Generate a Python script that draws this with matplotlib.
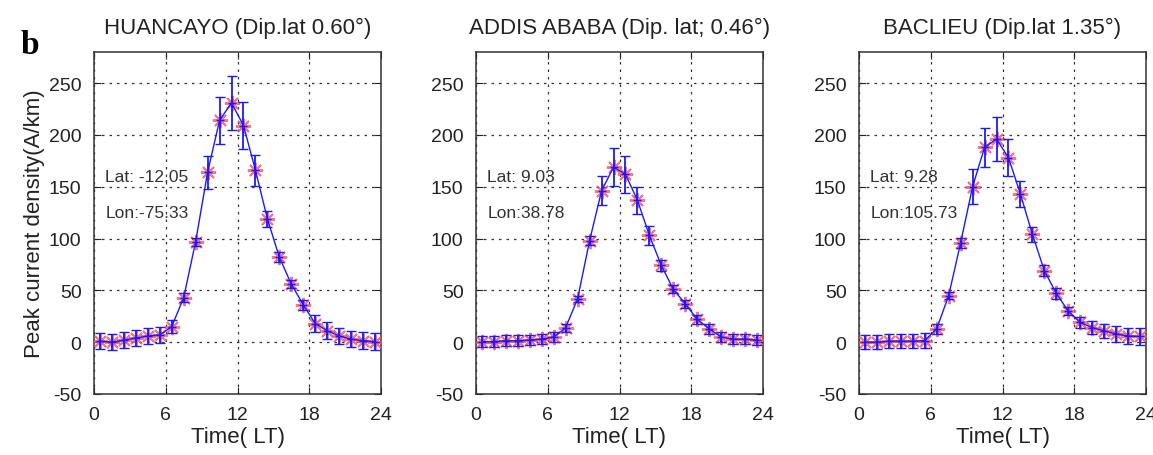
import matplotlib
matplotlib.use("Agg")
import matplotlib.pyplot as plt

plt.rcParams['font.family'] = ['Liberation Sans', 'DejaVu Sans']
plt.rcParams['axes.unicode_minus'] = False

hours = [0.5, 1.5, 2.5, 3.5, 4.5, 5.5, 6.5, 7.5, 8.5, 9.5, 10.5, 11.5,
         12.5, 13.5, 14.5, 15.5, 16.5, 17.5, 18.5, 19.5, 20.5, 21.5, 22.5, 23.5]

titles = ["HUANCAYO (Dip.lat 0.60°)", "ADDIS ABABA (Dip. lat; 0.46°)", "BACLIEU (Dip.lat 1.35°)"]
lat_labels = ["Lat: -12.05", "Lat: 9.03", "Lat: 9.28"]
lon_labels = ["Lon:-75.33", "Lon:38.78", "Lon:105.73"]

huancayo = [1, 0, 2, 4, 6, 7, 15, 43, 97, 164, 214, 231, 209, 166, 119, 82, 56, 36, 18, 11, 6, 3, 1.5, 0.5]
huancayo_err = [8, 8, 8, 8, 8, 8, 6, 4, 4, 16, 23, 26, 23, 15, 8, 5, 4, 5, 8, 8, 8, 8, 8, 8]

addis = [0.6, 0.6, 1.5, 1.5, 2, 3, 5, 14, 42, 98, 146, 169, 162, 137, 103, 74, 51, 37, 22, 13, 5, 3, 3, 2]
addis_err = [5, 5, 5, 5, 5, 5, 5, 4, 3, 4, 14, 18, 18, 13, 9, 5, 4, 4, 4, 5, 5, 5, 5, 5]

baclieu = [0, 0, 1, 1, 1, 1.6, 13, 45, 96, 150, 188, 196, 178, 143, 104, 69, 47, 30, 19, 14, 11, 8, 6, 5.5]
baclieu_err = [7, 7, 7, 7, 7, 7, 5, 3, 5, 17, 19, 21, 18, 13, 7, 5, 5, 4, 5, 6, 7, 8, 8, 8]

xticks = [0, 6, 12, 18, 24]
yticks = [-50, 0, 50, 100, 150, 200, 250]

series = [huancayo, addis, baclieu]
errors = [huancayo_err, addis_err, baclieu_err]
lefts = [94, 476, 859]

fig = plt.figure(figsize=(11.53, 4.56), dpi=100)
W, H = 1153, 456
for i in range(3):
    ax = fig.add_axes([lefts[i] / W, (456 - 395) / H, 287 / W, (395 - 53) / H])
    ax.plot(hours, series[i], linestyle='none', marker=(8, 2, 0), markersize=11,
            color='#f2506e', markeredgewidth=1.4, alpha=0.8, zorder=3)
    ax.errorbar(hours, series[i], yerr=errors[i], color='#1a1aff', linewidth=1.0,
                elinewidth=1.3, capsize=3.5, capthick=1.3, marker='+', markersize=6,
                markeredgewidth=1.0, zorder=4)
    ax.set_xlim(0, 24)
    ax.set_ylim(-50, 280)
    ax.set_xticks(xticks)
    ax.set_yticks(yticks)
    ax.tick_params(direction='in', length=5, width=0.8, top=True, right=True,
                   labelsize=14, colors='#222222')
    ax.tick_params(axis='x', pad=9)
    ax.tick_params(axis='y', pad=9)
    ax.grid(True, linestyle=(0, (2, 4)), color='#333333', linewidth=0.9)
    for s in ax.spines.values():
        s.set_linewidth(1.1)
        s.set_color('#333333')
    ax.set_title(titles[i], fontsize=16, color='#222222', pad=14)
    ax.set_xlabel("Time( LT)", fontsize=16, color='#222222', labelpad=2)
    ax.text(0.95, 160, lat_labels[i], fontsize=12.5, color='#333333', va='center', zorder=5)
    ax.text(0.95, 125, lon_labels[i], fontsize=12.5, color='#333333', va='center', zorder=5)
    if i == 0:
        ax.set_ylabel("Peak current density(A/km)", fontsize=16, color='#222222', labelpad=3)

fig.text(30 / W, 1 - 45 / H, "b", fontsize=24, fontweight='bold',
         family='Liberation Serif', va='center', ha='center')

fig.savefig("out.png", dpi=100)
